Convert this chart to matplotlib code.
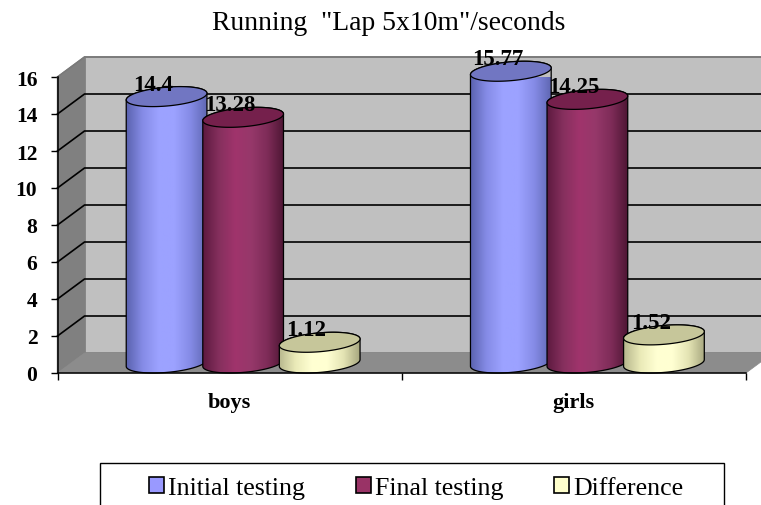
import numpy as np
import matplotlib
matplotlib.use("Agg")
import matplotlib.pyplot as plt
from matplotlib.colors import LinearSegmentedColormap
from matplotlib.patches import Patch, PathPatch, Polygon, Rectangle
from matplotlib.path import Path

categories = ["boys", "girls"]
series_names = ["Initial testing", "Final testing", "Difference"]
initial = [14.4, 15.77]
final = [13.28, 14.25]
difference = [1.12, 1.52]
value_labels = [["14.4", "15.77"], ["13.28", "14.25"], ["1.12", "1.52"]]
yticks = [0, 2, 4, 6, 8, 10, 12, 14, 16]

face_colors = ["#9999FF", "#993366", "#FFFFCC"]
top_colors = ["#7176C2", "#75204C", "#C6C69A"]
gradients = [
    ["#5A62AE", "#858BE6", "#9CA2FF", "#9CA2FF", "#858BE6", "#6068B4"],
    ["#5E1A40", "#86305E", "#A0346C", "#96386A", "#7E2C58", "#4E1634"],
    ["#B8B88E", "#EAEAB8", "#FFFFD2", "#FFFFD2", "#E4E4B4", "#A8A880"],
]

plt.rcParams["font.family"] = ["Liberation Serif"]

W, H = 761, 506
fig = plt.figure(figsize=(W / 100, H / 100), dpi=100)
# front plane of the 3D box
ax = fig.add_axes([57.5 / W, 1 - 374 / H, 688.5 / W, 296 / H])
ax.patch.set_visible(False)

# depth of the box in data units
dx = 27 / 344
dy = 20 / 18.5
xmax = len(categories)
ymax = yticks[-1]

ax.add_patch(Polygon([(dx, dy), (xmax + dx, dy), (xmax + dx, ymax + dy), (dx, ymax + dy)],
                     fc="#C0C0C0", ec="#808080", lw=1.2, clip_on=False, zorder=1))
ax.add_patch(Polygon([(0, 0), (dx, dy), (dx, ymax + dy), (0, ymax)],
                     fc="#808080", ec="#808080", lw=1, clip_on=False, zorder=1))
ax.add_patch(Polygon([(0, 0), (xmax, 0), (xmax + dx, dy), (dx, dy)],
                     fc="#8C8C8C", ec="#8C8C8C", lw=0.5, clip_on=False, zorder=1))

# gridlines on the back wall and the side wall
for v in yticks[1:-1]:
    ax.plot([0, dx, xmax + dx], [v, v + dy, v + dy], color="black", lw=1.2,
            clip_on=False, zorder=2)
ax.plot([0, dx, xmax + dx], [ymax, ymax + dy, ymax + dy], color="#7A7A7A", lw=1.2,
        clip_on=False, zorder=2)

bar_w = 76.5 / 344
half_w = 38 / 344
ext = np.hypot(half_w, dx / 2)
t0 = np.arctan2(dx / 2, half_w)
zo = 3


def ellipse_xy(cx, cy, t):
    return cx + half_w * np.cos(t) + dx / 2 * np.sin(t), cy + dy / 2 * np.sin(t)


all_values = [initial, final, difference]
for s, values in enumerate(all_values):
    cmap = LinearSegmentedColormap.from_list("c%d" % s, gradients[s])
    for c, v in enumerate(values):
        cx = c + 0.5 + (s - 1) * bar_w + dx / 2
        t_bottom = np.linspace(t0 + np.pi, t0 + 2 * np.pi, 60)
        t_top = np.linspace(t0, t0 + np.pi, 60)
        bx, by = ellipse_xy(cx, dy / 2, t_bottom)
        tx, ty = ellipse_xy(cx, v + dy / 2, t_top)
        verts = np.vstack([np.column_stack([bx, by]), np.column_stack([tx, ty]), [(bx[0], by[0])]])
        codes = [Path.MOVETO] + [Path.LINETO] * (len(verts) - 2) + [Path.CLOSEPOLY]
        body = PathPatch(Path(verts, codes), fc="none", ec="black", lw=0.9,
                         clip_on=False, zorder=zo + 0.2)
        ax.add_patch(body)
        im = ax.imshow(np.linspace(0, 1, 128)[None, :], cmap=cmap, aspect="auto",
                       extent=[cx - ext, cx + ext, 0, v + dy], zorder=zo + 0.1)
        im.set_clip_path(PathPatch(Path(verts, codes), transform=ax.transData))
        t_full = np.linspace(0, 2 * np.pi, 120)
        ex, ey = ellipse_xy(cx, v + dy / 2, t_full)
        ax.add_patch(Polygon(np.column_stack([ex, ey]), fc=top_colors[s], ec="black", lw=0.9,
                             clip_on=False, zorder=zo + 0.3))
        ax.annotate(value_labels[s][c], (cx, v + dy / 2), xytext=(-9.5, 9), textcoords="offset points",
                    ha="center", va="center", fontsize=16.5, fontweight="bold", color="black",
                    annotation_clip=False, zorder=20)
        zo += 1

ax.set_xlim(0, xmax)
ax.set_ylim(0, ymax)

for side in ["top", "right"]:
    ax.spines[side].set_visible(False)
ax.spines["left"].set_linewidth(1.1)
ax.spines["bottom"].set_linewidth(1.1)
ax.spines["left"].set_zorder(30)
ax.spines["bottom"].set_zorder(30)

ax.set_yticks(yticks)
ax.set_yticklabels([str(v) for v in yticks], fontsize=15.5, fontweight="bold")
ax.tick_params(axis="y", length=5, width=1, pad=9.5)
ax.set_xticks(range(xmax + 1))
ax.set_xticklabels([])
ax.tick_params(axis="x", length=5, width=1)
ax.set_xticks([i + 0.5 for i in range(xmax)], minor=True)
ax.set_xticklabels(categories, minor=True, fontsize=16, fontweight="bold")
ax.tick_params(axis="x", which="minor", length=0, pad=13.5)

fig.text(389 / W, 1 - 23 / H, 'Running  "Lap 5x10m"/seconds', ha="center", va="center", fontsize=19.9)

# legend box runs off the bottom of the image
fig.add_artist(Rectangle((100 / W, -0.05), 624 / W, 0.05 + 1 - 464 / H, transform=fig.transFigure,
                         fc="white", ec="black", lw=1))
handles = [Patch(fc=col, ec="black", lw=1.2) for col in face_colors]
fig.legend(handles, series_names, loc="center", bbox_to_anchor=(416 / W, 1 - 489 / H), ncol=3,
           frameon=False, fontsize=18.6, handlelength=0.58, handleheight=0.58, handletextpad=0.15,
           columnspacing=1.97, borderpad=0, borderaxespad=0)

fig.savefig("out.png", dpi=100)
